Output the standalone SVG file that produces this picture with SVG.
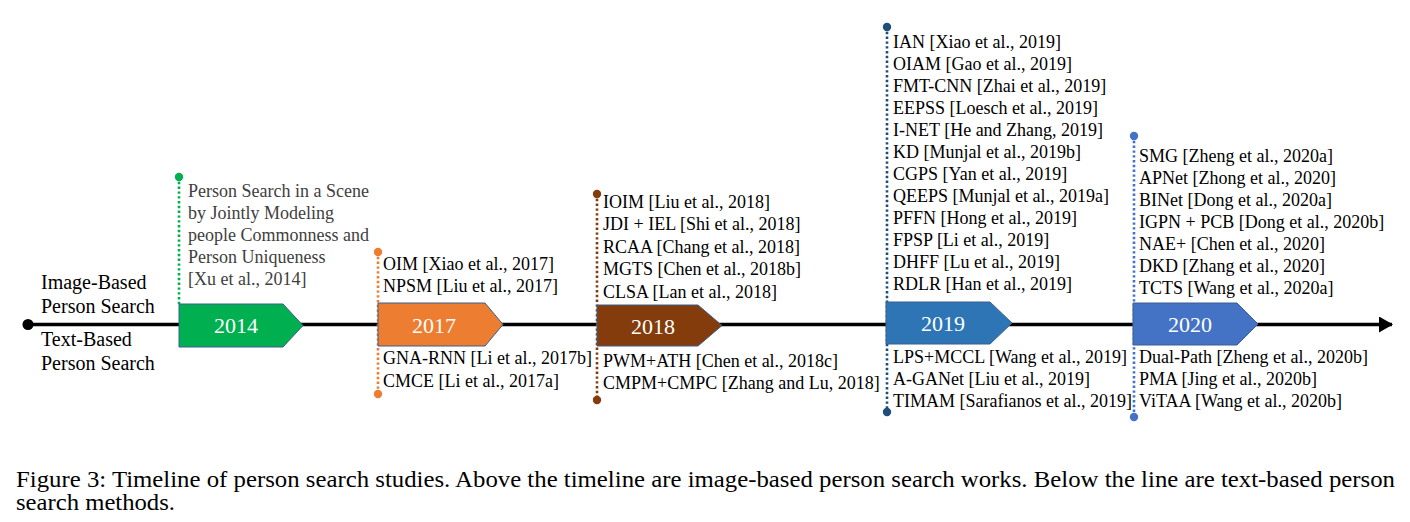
<svg xmlns="http://www.w3.org/2000/svg" width="1410" height="522" viewBox="0 0 1410 522">
<style>
text{font-family:"Liberation Serif","Times New Roman",serif;fill:#000}
.lbl{font-size:20px}
.it{font-size:18px}
.gray{fill:#404040}
.yr{font-size:22px;fill:#fff;text-anchor:middle}
.cap{font-size:23px}
.box{stroke:#3A5F8F;stroke-width:1}
.dot{stroke-width:2.6;stroke-dasharray:2.4 2.4;fill:none}
</style>
<defs>
<marker id="arr" markerWidth="14" markerHeight="16" refX="13" refY="8" orient="auto" markerUnits="userSpaceOnUse">
<path d="M0,0 L14,8 L0,16 Z" fill="#000"/>
</marker>
</defs>
<rect width="1410" height="522" fill="#fff"/>
<g id="connectors">
<line x1="28" y1="324.5" x2="1392" y2="324.5" stroke="#000" stroke-width="3.6" marker-end="url(#arr)"/>
<circle cx="28" cy="324.5" r="5.5" fill="#000"/>
</g>
<g id="legend">
<text class="lbl" x="41" y="289">Image-Based</text>
<text class="lbl" x="41" y="313">Person Search</text>
<text class="lbl" x="41" y="346">Text-Based</text>
<text class="lbl" x="41" y="370">Person Search</text>
</g>
<g id="y2014">
<line class="dot" x1="179" y1="177" x2="179" y2="304" stroke="#00B050"/>
<circle cx="179" cy="177" r="4.2" fill="#00B050"/>
<polygon class="box" points="179,304 283,304 303,325.5 283,347 179,347" fill="#00B050"/>
<text class="yr" x="236" y="333">2014</text>
<text class="it gray" x="188" y="197">Person Search in a Scene</text>
<text class="it gray" x="188" y="219">by Jointly Modeling</text>
<text class="it gray" x="188" y="241">people Commonness and</text>
<text class="it gray" x="188" y="263">Person Uniqueness</text>
<text class="it gray" x="188" y="285">[Xu et al., 2014]</text>
</g>
<g id="y2017">
<line class="dot" x1="378" y1="252" x2="378" y2="394" stroke="#ED7D31"/>
<circle cx="378" cy="252" r="4.2" fill="#ED7D31"/>
<circle cx="378" cy="394" r="4.2" fill="#ED7D31"/>
<polygon class="box" points="378,303 485,303 503,324.5 485,346 378,346" fill="#ED7D31"/>
<text class="yr" x="434" y="333">2017</text>
<text class="it" x="383" y="270">OIM [Xiao et al., 2017]</text>
<text class="it" x="383" y="292">NPSM [Liu et al., 2017]</text>
<text class="it" x="383" y="364">GNA-RNN [Li et al., 2017b]</text>
<text class="it" x="383" y="387">CMCE [Li et al., 2017a]</text>
</g>
<g id="y2018">
<line class="dot" x1="597" y1="194" x2="597" y2="400" stroke="#843C0C"/>
<circle cx="597" cy="194" r="4.2" fill="#843C0C"/>
<circle cx="597" cy="400" r="4.2" fill="#843C0C"/>
<polygon class="box" points="597,305 698,305 722,325.5 698,346 597,346" fill="#843C0C"/>
<text class="yr" x="653" y="334">2018</text>
<text class="it" x="603" y="208">IOIM [Liu et al., 2018]</text>
<text class="it" x="603" y="230">JDI + IEL [Shi et al., 2018]</text>
<text class="it" x="603" y="253">RCAA [Chang et al., 2018]</text>
<text class="it" x="603" y="275">MGTS [Chen et al., 2018b]</text>
<text class="it" x="603" y="298">CLSA [Lan et al., 2018]</text>
<text class="it" x="603" y="367">PWM+ATH [Chen et al., 2018c]</text>
<text class="it" x="603" y="389">CMPM+CMPC [Zhang and Lu, 2018]</text>
</g>
<g id="y2019">
<line class="dot" x1="887" y1="27" x2="887" y2="412" stroke="#1F4E79"/>
<circle cx="887" cy="27" r="4.2" fill="#1F4E79"/>
<circle cx="887" cy="412" r="4.2" fill="#1F4E79"/>
<polygon class="box" points="886,302 990,302 1012,323 990,344 886,344" fill="#2E75B6"/>
<text class="yr" x="943" y="331">2019</text>
<text class="it" x="893" y="48">IAN [Xiao et al., 2019]</text>
<text class="it" x="893" y="70">OIAM [Gao et al., 2019]</text>
<text class="it" x="893" y="92">FMT-CNN [Zhai et al., 2019]</text>
<text class="it" x="893" y="114">EEPSS [Loesch et al., 2019]</text>
<text class="it" x="893" y="136">I-NET [He and Zhang, 2019]</text>
<text class="it" x="893" y="158">KD [Munjal et al., 2019b]</text>
<text class="it" x="893" y="180">CGPS [Yan et al., 2019]</text>
<text class="it" x="893" y="202">QEEPS [Munjal et al., 2019a]</text>
<text class="it" x="893" y="224">PFFN [Hong et al., 2019]</text>
<text class="it" x="893" y="246">FPSP [Li et al., 2019]</text>
<text class="it" x="893" y="268">DHFF [Lu et al., 2019]</text>
<text class="it" x="893" y="290">RDLR [Han et al., 2019]</text>
<text class="it" x="893" y="363">LPS+MCCL [Wang et al., 2019]</text>
<text class="it" x="893" y="385">A-GANet [Liu et al., 2019]</text>
<text class="it" x="893" y="407">TIMAM [Sarafianos et al., 2019]</text>
</g>
<g id="y2020">
<line class="dot" x1="1134" y1="136" x2="1134" y2="417" stroke="#4472C4"/>
<circle cx="1134" cy="136" r="4.2" fill="#4472C4"/>
<circle cx="1134" cy="417" r="4.2" fill="#4472C4"/>
<polygon class="box" points="1133,303 1237,303 1258,324 1237,345 1133,345" fill="#4472C4"/>
<text class="yr" x="1190" y="332">2020</text>
<text class="it" x="1139" y="162">SMG [Zheng et al., 2020a]</text>
<text class="it" x="1139" y="184">APNet [Zhong et al., 2020]</text>
<text class="it" x="1139" y="206">BINet [Dong et al., 2020a]</text>
<text class="it" x="1139" y="228">IGPN + PCB [Dong et al., 2020b]</text>
<text class="it" x="1139" y="250">NAE+ [Chen et al., 2020]</text>
<text class="it" x="1139" y="272">DKD [Zhang et al., 2020]</text>
<text class="it" x="1139" y="294">TCTS [Wang et al., 2020a]</text>
<text class="it" x="1139" y="363">Dual-Path [Zheng et al., 2020b]</text>
<text class="it" x="1139" y="385">PMA [Jing et al., 2020b]</text>
<text class="it" x="1139" y="407">ViTAA [Wang et al., 2020b]</text>
</g>
<g id="caption">
<text class="cap" x="16" y="487" textLength="1379" lengthAdjust="spacingAndGlyphs">Figure 3: Timeline of person search studies. Above the timeline are image-based person search works. Below the line are text-based person</text>
<text class="cap" x="16" y="510" textLength="159" lengthAdjust="spacingAndGlyphs">search methods.</text>
</g>
</svg>
